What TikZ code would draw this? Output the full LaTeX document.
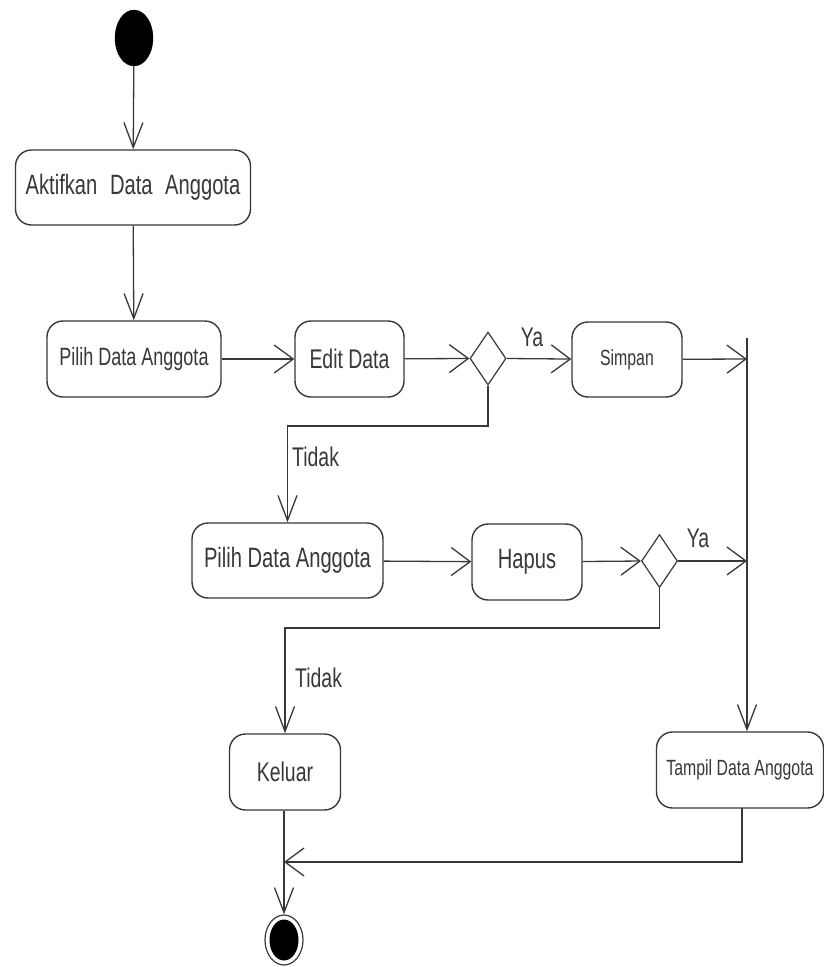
\documentclass[tikz,border=0pt]{standalone}
\usepackage{fontspec}
\newfontfamily\nf[FakeStretch=0.72]{Liberation Sans}
\usetikzlibrary{arrows.meta,shapes.geometric}
\definecolor{ln}{gray}{0.22}
\begin{document}
\begin{tikzpicture}[x=1pt,y=-1pt,
  every node/.style={font=\nf, text=ln},
  act/.style={draw=ln, line width=1.4pt, rounded corners=16pt, inner sep=0pt, fill=white},
  dec/.style={draw=ln, line width=1.2pt, diamond, inner sep=0pt, minimum width=36pt, minimum height=53pt},
  flow/.style={draw=ln, line width=1.3pt},
  varr/.style={flow, -{Straight Barb[length=25pt,width=19pt,line width=1.3pt]}},
  harr/.style={flow, -{Straight Barb[length=19pt,width=28pt,line width=1.3pt]}},
  lbl/.style={font=\nf\fontsize{27pt}{30pt}\selectfont, inner sep=0pt}
  ]
\useasboundingbox (0,0) rectangle (824,967);
% start
\node[ellipse, fill=black, draw=black, minimum width=38pt, minimum height=56pt, inner sep=0pt] (start) at (134,38) {};
% activities
\node[act, minimum width=235pt, minimum height=75pt, font=\nf\fontsize{28pt}{30pt}\selectfont] (aktif) at (133,187.5) {Aktifkan\hspace{7pt} Data\hspace{7pt} Anggota};
\node[act, minimum width=174pt, minimum height=76pt, font=\nf\fontsize{25pt}{28pt}\selectfont] (pilih1) at (134,359) {Pilih Data Anggota};
\node[act, minimum width=109pt, minimum height=76pt, font=\nf\fontsize{27pt}{30pt}\selectfont] (edit) at (349.5,359) {Edit Data};
\node[dec] (d1) at (488,358.5) {};
\node[act, minimum width=110pt, minimum height=75pt, font=\nf\fontsize{22pt}{25pt}\selectfont] (simpan) at (627,359.5) {Simpan};
\node[act, minimum width=191pt, minimum height=75pt, font=\nf\fontsize{28pt}{30pt}\selectfont] (pilih2) at (287.5,560.5) {Pilih Data Anggota};
\node[act, minimum width=110pt, minimum height=76pt, font=\nf\fontsize{28pt}{30pt}\selectfont] (hapus) at (527,562) {Hapus};
\node[dec] (d2) at (659.5,561) {};
\node[act, minimum width=111pt, minimum height=76pt, font=\nf\fontsize{27pt}{30pt}\selectfont] (keluar) at (285,772) {Keluar};
\node[act, minimum width=167pt, minimum height=76pt, font=\nf\fontsize{22pt}{25pt}\selectfont] (tampil) at (740,770) {Tampil Data Anggota};
% end
\node[ellipse, draw=ln, line width=1.2pt, minimum width=38pt, minimum height=50pt, inner sep=0pt] (endn) at (284,940) {};
\node[ellipse, fill=black, minimum width=29pt, minimum height=41pt, inner sep=0pt] (endin) at (endn.center) {};
% join bar
\coordinate (bartop) at (747,338);
\coordinate (bar1) at (747,359);
\coordinate (bar2) at (747,561);
% connectors
\draw[varr] (start) -- (aktif);
\draw[varr] (aktif) -- (pilih1);
\draw[harr] (pilih1) -- (edit);
\draw[harr] (edit) -- (d1.west);
\draw[harr] (d1.east) -- (simpan);
\node[lbl, anchor=center] (ya1) at (532,337) {Ya};
\draw[harr] (simpan) -- (bar1);
\draw[varr] (bartop) -- (bartop |- tampil.north);
\coordinate (t1a) at (488,426);
\coordinate (t1b) at (287.5,426);
\draw[varr] (d1.south) -- (t1a) -- (t1b) -- (pilih2.north);
\node[lbl, anchor=west] (tidak1) at (292,457) {Tidak};
\draw[harr] (pilih2) -- (hapus);
\draw[harr] (hapus) -- (d2.west);
\draw[harr] (d2.east) -- (bar2);
\node[lbl, anchor=center] (ya2) at (698,538) {Ya};
\coordinate (t2a) at (659.5,628);
\coordinate (t2b) at (285,628);
\draw[varr] (d2.south) -- (t2a) -- (t2b) -- (keluar.north);
\node[lbl, anchor=west] (tidak2) at (295,678) {Tidak};
\coordinate (tpb) at (742,808);
\coordinate (tpc) at (742,862);
\coordinate (tpd) at (284,862);
\draw[harr] (tpb) -- (tpc) -- (tpd);
\draw[varr] (keluar.south -| endn.north) -- (endn.north);
\end{tikzpicture}
\end{document}
